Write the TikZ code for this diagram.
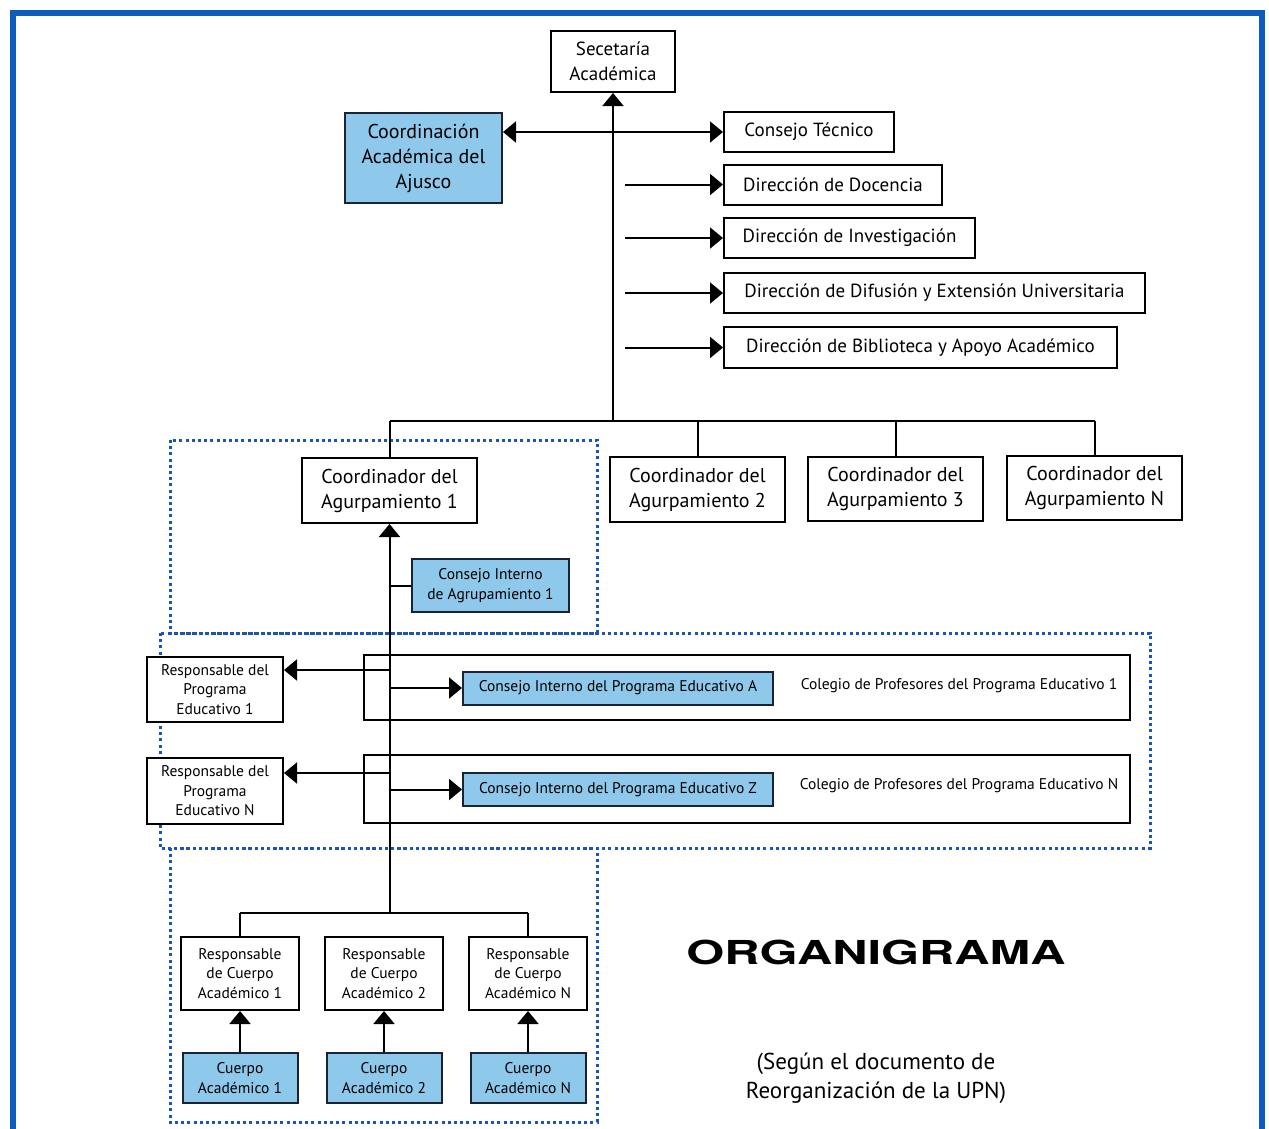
\documentclass[tikz,border=0pt]{standalone}
\usepackage{fontspec}
\setmainfont{PT Sans}
\newfontfamily\heros{TeX Gyre Heros}
\usetikzlibrary{arrows.meta}
\definecolor{lblue}{RGB}{142,200,234}
\definecolor{frameblue}{RGB}{10,92,190}
\definecolor{dotblue}{RGB}{25,85,185}
\definecolor{navy}{RGB}{25,35,55}
\tikzset{
  box/.style={draw=black, line width=2pt, fill=white, inner sep=0pt, align=center,
    font=\fontsize{19}{25}\selectfont},
  cbox/.style={box, font=\fontsize{20}{25}\selectfont},
  sbox/.style={box, font=\fontsize{15.5}{19.5}\selectfont},
  bluebox/.style={fill=lblue, draw=navy},
  conn/.style={line width=2pt, draw=black},
  arrow/.style={conn, -{Triangle[length=13pt,width=21pt]}},
  darrow/.style={conn, {Triangle[length=13pt,width=21pt]}-{Triangle[length=13pt,width=21pt]}},
  dots/.style={draw=dotblue, line width=3pt, dash pattern=on 3pt off 3.2pt},
  plain/.style={inner sep=0pt, align=center, font=\fontsize{15.5}{19.5}\selectfont}
}
\begin{document}
\begin{tikzpicture}[x=1pt,y=-1pt]
\useasboundingbox (0,0) rectangle (1269,1128);
\fill[white] (0,0) rectangle (1269,1128);
\begin{scope}
\clip (0,0) rectangle (1269,1128);
\draw[frameblue, line width=6pt] (12.5,1140) -- (12.5,13) -- (1262,13) -- (1262,1140);
\end{scope}

% dotted regions
\draw[dots] (170,440) rectangle (597,633);
\draw[dots] (160,633) rectangle (1150,848);
\draw[dots] (170,848) rectangle (597,1122);

% top part
\node[box, minimum width=124pt, minimum height=61pt] (sec) at (613,61.5) {Secetaría\\Académica};
\node[box, bluebox, minimum width=157pt, minimum height=90pt, font=\fontsize{20}{25}\selectfont] (caa) at (423.5,158) {Coordinación\\Académica del\\Ajusco};
\node[box, minimum width=170pt, minimum height=40pt] (ct) at (809,132) {Consejo Técnico};
\node[box, minimum width=218pt, minimum height=40pt] (dd) at (833,184.5) {Dirección de Docencia};
\node[box, minimum width=251pt, minimum height=40pt] (di) at (849.5,238) {Dirección de Investigación};
\node[box, minimum width=421pt, minimum height=40pt] (df) at (934.5,293) {Dirección de Difusión y Extensión Universitaria};
\node[box, minimum width=393pt, minimum height=41pt] (db) at (920.5,347.5) {Dirección de Biblioteca y Apoyo Académico};

\coordinate (bus) at (613,421);
\draw[arrow] (bus) -- (sec.south);
\draw[darrow] (caa.east |- ct.west) -- (ct.west);
\coordinate (s1) at (625,184.5);
\coordinate (s2) at (625,238);
\coordinate (s3) at (625,293);
\coordinate (s4) at (625,347.5);
\draw[arrow] (s1) -- (dd.west);
\draw[arrow] (s2) -- (di.west);
\draw[arrow] (s3) -- (df.west);
\draw[arrow] (s4) -- (db.west);

% coordinators
\node[cbox, minimum width=175pt, minimum height=65pt] (c1) at (389.5,490.5) {Coordinador del\\Agurpamiento 1};
\node[cbox, minimum width=175pt, minimum height=65pt] (c2) at (697.5,489.5) {Coordinador del\\Agurpamiento 2};
\node[cbox, minimum width=175pt, minimum height=64pt] (c3) at (895.5,489) {Coordinador del\\Agurpamiento 3};
\node[cbox, minimum width=175pt, minimum height=64pt] (cN) at (1094.5,488) {Coordinador del\\Agurpamiento N};
\draw[conn] (c1.north |- bus) -- (cN.north |- bus);
\draw[conn] (c1.north |- bus) -- (c1.north);
\draw[conn] (c2.north |- bus) -- (c2.north);
\draw[conn] (c3.north |- bus) -- (c3.north);
\draw[conn] (cN.north |- bus) -- (cN.north);

% program rows
\node[box, minimum width=766pt, minimum height=65pt] (row1) at (747,687.5) {};
\node[box, minimum width=766pt, minimum height=68pt] (row2) at (747,789) {};
\node[plain] (col1) at (959,686) {Colegio de Profesores del Programa Educativo 1};
\node[plain] (col2) at (959,786) {Colegio de Profesores del Programa Educativo N};

\coordinate (vb) at (389.5,913);
\draw[arrow] (vb) -- (c1.south);

\node[sbox, bluebox, minimum width=157pt, minimum height=53pt] (cia) at (490.5,585.5) {Consejo Interno\\de Agrupamiento 1};
\draw[conn] (cia.west -| vb) -- (cia.west);

\node[sbox, minimum width=136pt, minimum height=65pt] (rp1) at (215,689.5) {Responsable del\\Programa\\Educativo 1};
\node[sbox, minimum width=136pt, minimum height=66pt] (rpN) at (215,791) {Responsable del\\Programa\\Educativo N};
\node[sbox, bluebox, minimum width=310pt, minimum height=33pt] (ciA) at (618,688) {Consejo Interno del Programa Educativo A};
\node[sbox, bluebox, minimum width=310pt, minimum height=33pt] (ciZ) at (618,789.5) {Consejo Interno del Programa Educativo Z};

\coordinate (j1) at (389.5,670);
\coordinate (j2) at (389.5,773);
\draw[arrow] (j1) -- (j1 -| rp1.east);
\draw[arrow] (ciA.west -| vb) -- (ciA.west);
\draw[arrow] (j2) -- (j2 -| rpN.east);
\draw[arrow] (ciZ.west -| vb) -- (ciZ.west);

% academic bodies
\node[sbox, minimum width=118pt, minimum height=73pt] (rc1) at (240,973.5) {Responsable\\de Cuerpo\\Académico 1};
\node[sbox, minimum width=118pt, minimum height=73pt] (rc2) at (384,973.5) {Responsable\\de Cuerpo\\Académico 2};
\node[sbox, minimum width=118pt, minimum height=73pt] (rcN) at (528,973.5) {Responsable\\de Cuerpo\\Académico N};
\draw[conn] (rc1.north |- vb) -- (rcN.north |- vb);
\draw[conn] (rc1.north |- vb) -- (rc1.north);
\draw[conn] (rcN.north |- vb) -- (rcN.north);

\node[sbox, bluebox, minimum width=115pt, minimum height=50pt] (ca1) at (240,1078) {Cuerpo\\Académico 1};
\node[sbox, bluebox, minimum width=115pt, minimum height=50pt] (ca2) at (384,1078) {Cuerpo\\Académico 2};
\node[sbox, bluebox, minimum width=115pt, minimum height=50pt] (caN) at (528,1078) {Cuerpo\\Académico N};
\draw[arrow] (ca1.north) -- (rc1.south);
\draw[arrow] (ca2.north) -- (rc2.south);
\draw[arrow] (caN.north) -- (rcN.south);

% titles
\node[inner sep=0pt, font=\heros\bfseries\fontsize{33}{33}\selectfont] (title) at (876,952) {\scalebox{1.48}[1]{ORGANIGRAMA}};
\node[inner sep=0pt, align=center, font=\fontsize{23}{29}\selectfont] (sub) at (876,1078) {(Según el documento de\\Reorganización de la UPN)};
\end{tikzpicture}
\end{document}
